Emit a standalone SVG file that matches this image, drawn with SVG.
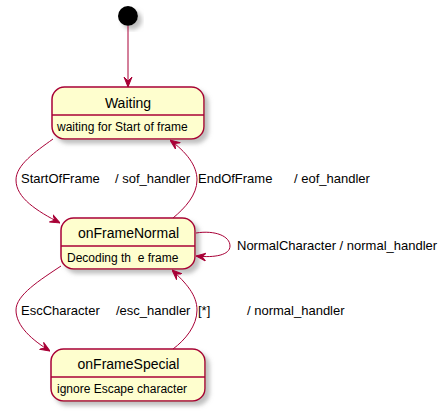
<svg xmlns="http://www.w3.org/2000/svg" width="445" height="414" viewBox="0 0 445 414">
<style>
.st{fill:#FEFECE;stroke:#A80036;stroke-width:1.5;filter:url(#sh)}
.dv{stroke:#A80036;stroke-width:1.5}
.tt{font-family:"Liberation Sans",Arial,sans-serif;font-size:14px;fill:#000;text-anchor:middle}
.bd{font-family:"Liberation Sans",Arial,sans-serif;font-size:12px;fill:#000}
.lb{font-family:"Liberation Sans",Arial,sans-serif;font-size:13px;fill:#000}
.ed{fill:none;stroke:#A80036;stroke-width:1;marker-end:url(#ah)}
</style>
<defs>
<filter id="sh" x="-20%" y="-20%" width="150%" height="150%">
<feGaussianBlur in="SourceAlpha" stdDeviation="2" result="b"/>
<feColorMatrix in="b" type="matrix" values="0 0 0 0 0.3  0 0 0 0 0.3  0 0 0 0 0.3  0 0 0 0.6 0" result="c"/>
<feOffset in="c" dx="4" dy="4" result="o"/>
<feMerge><feMergeNode in="o"/><feMergeNode in="SourceGraphic"/></feMerge>
</filter>
<marker id="ah" viewBox="0 0 10 10" refX="10" refY="5" markerWidth="10" markerHeight="10" markerUnits="userSpaceOnUse" orient="auto">
<path d="M0,1 L10,5 L0,9 L4,5 Z" fill="#A80036" stroke="#A80036" stroke-width="1" stroke-linejoin="miter"/>
</marker>
</defs>
<g id="initial">
<circle cx="128" cy="16" r="10" fill="#000" filter="url(#sh)"/>
</g>
<g id="Waiting">
<rect class="st" x="52" y="87" width="152" height="52" rx="12.5" ry="12.5"/>
<line class="dv" x1="52" y1="115" x2="204" y2="115"/>
<text class="tt" x="128" y="108">Waiting</text>
<text class="bd" x="57" y="131">waiting for Start of frame</text>
</g>
<g id="onFrameNormal">
<rect class="st" x="61" y="218" width="134" height="51" rx="12.5" ry="12.5"/>
<line class="dv" x1="61" y1="246" x2="195" y2="246"/>
<text class="tt" x="128.5" y="238">onFrameNormal</text>
<text class="bd" x="67" y="262" xml:space="preserve">Decoding th  e frame</text>
</g>
<g id="onFrameSpecial">
<rect class="st" x="51" y="349" width="154" height="52" rx="12.5" ry="12.5"/>
<line class="dv" x1="51" y1="377" x2="205" y2="377"/>
<text class="tt" x="128.5" y="369">onFrameSpecial</text>
<text class="bd" x="57" y="393">ignore Escape character</text>
</g>
<g id="connectors">
<path class="ed" d="M128,26 L128,87"/>
<path class="ed" d="M53,139 C35,152 16,165 16,180 C16,198 37,211 60,223"/>
<path class="ed" d="M173,218 C185,208 197,195 197,180 C197,165 186,152 170,140"/>
<path class="ed" d="M196,233 C215,230 230,236 230,246 C230,255 215,258 196,256"/>
<path class="ed" d="M61,266 C40,280 16,295 16,310 C16,326 32,340 50,351"/>
<path class="ed" d="M173,349 C185,340 197,326 197,310 C197,295 186,283 172,270"/>
<text class="lb" y="183"><tspan x="21">StartOfFrame</tspan><tspan x="115">/ sof_handler</tspan></text>
<text class="lb" y="183"><tspan x="198">EndOfFrame</tspan><tspan x="294">/ eof_handler</tspan></text>
<text class="lb" x="237" y="250">NormalCharacter / normal_handler</text>
<text class="lb" y="315"><tspan x="21">EscCharacter</tspan><tspan x="116">/esc_handler</tspan></text>
<text class="lb" y="315"><tspan x="198">[*]</tspan><tspan x="247">/ normal_handler</tspan></text>
</g>
</svg>
